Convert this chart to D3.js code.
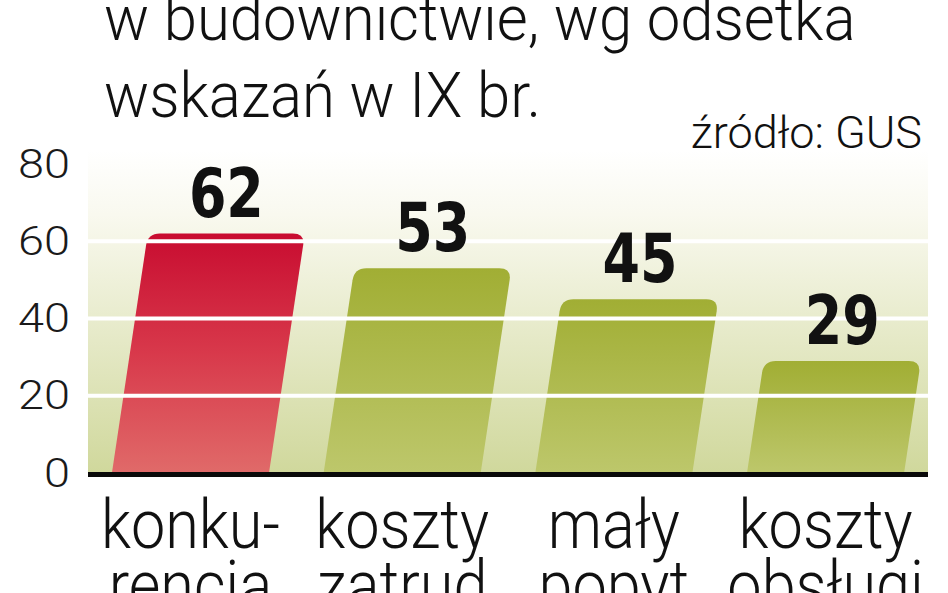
<!DOCTYPE html>
<html>
<head>
<meta charset="utf-8">
<script src="https://cdn.jsdelivr.net/npm/d3@7"></script>
<style>
  html, body { margin: 0; padding: 0; background: #ffffff; }
  svg { display: block; }
</style>
</head>
<body>
<div id="chart"></div>
<script>
// ---- data ----
const titleLines = ["w budownictwie, wg odsetka", "wskazań w IX br."];
const sourceText = "źródło: GUS";
const categoryLine1 = ["konku-", "koszty", "mały", "koszty"];
const categoryLine2 = ["rencja", "zatrud", "popyt", "obsługi"];
const values = [62, 53, 45, 29];
const yTicks = [0, 20, 40, 60, 80];

// ---- layout ----
const W = 948, H = 593;
const plotLeft = 88, plotRight = 928, plotTop = 164, plotBottom = 473;
const slope = 0.15;      // horizontal shift per vertical px (slanted bars)
const radius = 12;

const lightFont = "Roboto, 'Liberation Sans', Arial, sans-serif";
const boldFont = "'DejaVu Sans Condensed', 'DejaVu Sans', sans-serif";

const svg = d3.select("#chart").append("svg")
  .attr("width", W).attr("height", H);

const defs = svg.append("defs");
const bg = defs.append("linearGradient").attr("id", "bgGrad")
  .attr("x1", 0).attr("y1", 0).attr("x2", 0).attr("y2", 1);
bg.append("stop").attr("offset", 0).attr("stop-color", "#ffffff");
bg.append("stop").attr("offset", 0.2).attr("stop-color", "#f9f9ef");
bg.append("stop").attr("offset", 1).attr("stop-color", "#d0d89c");

const redG = defs.append("linearGradient").attr("id", "redGrad")
  .attr("x1", 0).attr("y1", 0).attr("x2", 0).attr("y2", 1);
redG.append("stop").attr("offset", 0).attr("stop-color", "#c80c30");
redG.append("stop").attr("offset", 0.5).attr("stop-color", "#d8394b");
redG.append("stop").attr("offset", 1).attr("stop-color", "#e06a69");

const greenG = defs.append("linearGradient").attr("id", "greenGrad")
  .attr("x1", 0).attr("y1", 0).attr("x2", 0).attr("y2", 1);
greenG.append("stop").attr("offset", 0).attr("stop-color", "#a1ae34");
greenG.append("stop").attr("offset", 1).attr("stop-color", "#bdc76b");

const y = d3.scaleLinear().domain([0, 80]).range([plotBottom, plotTop]);
const x = d3.scaleBand().domain(d3.range(values.length))
  .range([plotLeft, plotRight]).paddingInner(0.258).paddingOuter(0.113);
const bw = x.bandwidth();

// background
svg.append("rect")
  .attr("x", plotLeft).attr("y", 150)
  .attr("width", plotRight - plotLeft).attr("height", plotBottom - 150)
  .attr("fill", "url(#bgGrad)");

// bars
function barPath(x0, w, y0, yt) {
  const h = y0 - yt;
  const s = slope * h;
  const sr = slope * (h - radius);
  const p = d3.path();
  p.moveTo(x0, y0);
  p.lineTo(x0 + sr, yt + radius);
  p.quadraticCurveTo(x0 + s, yt, x0 + s + radius, yt);
  p.lineTo(x0 + w + s - radius, yt);
  p.quadraticCurveTo(x0 + w + s, yt, x0 + w + sr, yt + radius);
  p.lineTo(x0 + w, y0);
  p.closePath();
  return p.toString();
}

svg.append("g").selectAll("path").data(values).join("path")
  .attr("d", (d, i) => barPath(x(i), bw, plotBottom, y(d)))
  .attr("fill", (d, i) => i === 0 ? "url(#redGrad)" : "url(#greenGrad)");

// gridlines (over bars)
svg.append("g").selectAll("line").data(yTicks.filter(t => t > 0 && t < 80)).join("line")
  .attr("x1", plotLeft).attr("x2", plotRight)
  .attr("y1", d => y(d)).attr("y2", d => y(d))
  .attr("stroke", "#ffffff").attr("stroke-width", 4);

// baseline
svg.append("line")
  .attr("x1", plotLeft).attr("x2", plotRight)
  .attr("y1", plotBottom + 1.5).attr("y2", plotBottom + 1.5)
  .attr("stroke", "#0a0a0a").attr("stroke-width", 5);

// y tick labels
svg.append("g").selectAll("text").data(yTicks).join("text")
  .attr("x", 70).attr("y", d => y(d))
  .attr("text-anchor", "end").attr("dominant-baseline", "central")
  .attr("font-family", lightFont).attr("font-weight", 300)
  .attr("font-size", 40).attr("fill", "#1a1a1a")
  .attr("textLength", d => String(d).length * 26)
  .attr("lengthAdjust", "spacingAndGlyphs")
  .text(d => d);

// value labels
svg.append("g").selectAll("text").data(values).join("text")
  .attr("x", (d, i) => x(i) + bw / 2 + slope * (plotBottom - y(d)))
  .attr("y", d => y(d) - 17)
  .attr("text-anchor", "middle")
  .attr("font-family", boldFont).attr("font-weight", "bold")
  .attr("font-stretch", "condensed")
  .attr("font-size", 68).attr("fill", "#111")
  .attr("textLength", 75).attr("lengthAdjust", "spacingAndGlyphs")
  .text(d => d);

// category labels (condensed: tall type squeezed horizontally)
const cat = svg.append("g").selectAll("g").data(categoryLine1).join("g")
  .attr("transform", (d, i) => `translate(${x(i) + bw / 2},0) scale(0.9,1)`)
  .attr("font-family", lightFont).attr("font-weight", 300)
  .attr("font-size", 68).attr("fill", "#111").attr("text-anchor", "middle");
cat.append("text").attr("x", 0).attr("y", 548).text(d => d);
cat.append("text").attr("x", 0).attr("y", 609).text((d, i) => categoryLine2[i]);

// title
svg.append("g").attr("transform", "translate(104,0) scale(0.95,1)")
  .selectAll("text").data(titleLines).join("text")
  .attr("x", 0).attr("y", (d, i) => 40 + i * 77)
  .attr("font-family", lightFont).attr("font-weight", 300)
  .attr("font-size", 63).attr("fill", "#111")
  .text(d => d);

// source
svg.append("text")
  .attr("x", 922).attr("y", 148).attr("text-anchor", "end")
  .attr("font-family", lightFont).attr("font-weight", 300)
  .attr("font-size", 45).attr("fill", "#111")
  .text(sourceText);
</script>
</body>
</html>
